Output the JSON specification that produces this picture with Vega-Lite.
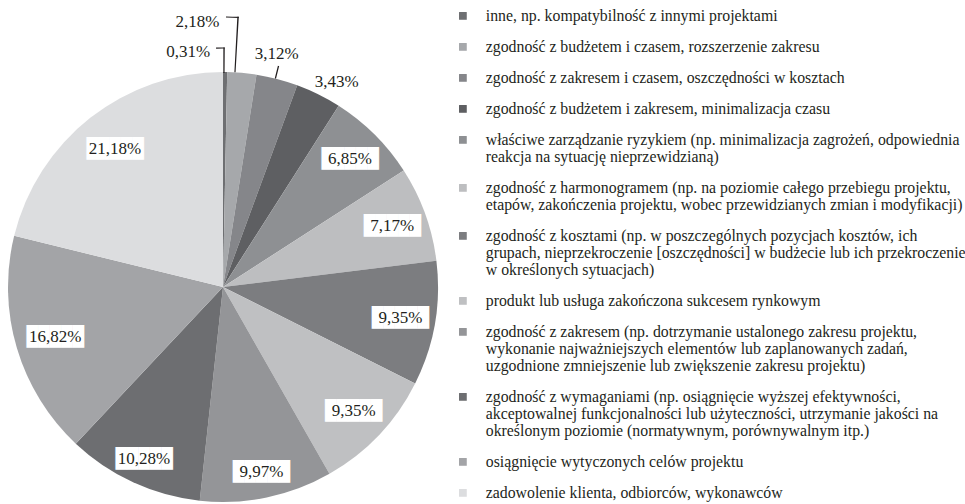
{
  "$schema": "https://vega.github.io/schema/vega-lite/v6.json",
  "width": 446,
  "height": 430,
  "autosize": {"type": "none"},
  "padding": {"left": 0, "top": 72, "right": 519, "bottom": 2},
  "background": "white",
  "config": {
    "view": {"stroke": null},
    "font": "Liberation Serif",
    "style": {"guide-label": {"lineHeight": 17}},
    "locale": {"number": {"decimal": ",", "thousands": " ", "grouping": [3], "currency": ["", " zł"]}}
  },
  "data": {
    "values": [
      {"i": 1, "kategoria": "inne, np. kompatybilność z innymi projektami", "udzial": 0.0031},
      {"i": 2, "kategoria": "zgodność z budżetem i czasem, rozszerzenie zakresu", "udzial": 0.0218},
      {"i": 3, "kategoria": "zgodność z zakresem i czasem, oszczędności w kosztach", "udzial": 0.0312},
      {"i": 4, "kategoria": "zgodność z budżetem i zakresem, minimalizacja czasu", "udzial": 0.0343},
      {"i": 5, "kategoria": "właściwe zarządzanie ryzykiem (np. minimalizacja zagrożeń, odpowiednia|reakcja na sytuację nieprzewidzianą)", "udzial": 0.0685},
      {"i": 6, "kategoria": "zgodność z harmonogramem (np. na poziomie całego przebiegu projektu,|etapów, zakończenia projektu, wobec przewidzianych zmian i modyfikacji)", "udzial": 0.0717},
      {"i": 7, "kategoria": "zgodność z kosztami (np. w poszczególnych pozycjach kosztów, ich|grupach, nieprzekroczenie [oszczędności] w budżecie lub ich przekroczenie|w określonych sytuacjach)", "udzial": 0.0935},
      {"i": 8, "kategoria": "produkt lub usługa zakończona sukcesem rynkowym", "udzial": 0.0935},
      {"i": 9, "kategoria": "zgodność z zakresem (np. dotrzymanie ustalonego zakresu projektu,|wykonanie najważniejszych elementów lub zaplanowanych zadań,|uzgodnione zmniejszenie lub zwiększenie zakresu projektu)", "udzial": 0.0997},
      {"i": 10, "kategoria": "zgodność z wymaganiami (np. osiągnięcie wyższej efektywności,|akceptowalnej funkcjonalności lub użyteczności, utrzymanie jakości na|określonym poziomie (normatywnym, porównywalnym itp.)", "udzial": 0.1028},
      {"i": 11, "kategoria": "osiągnięcie wytyczonych celów projektu", "udzial": 0.1682},
      {"i": 12, "kategoria": "zadowolenie klienta, odbiorców, wykonawców", "udzial": 0.2118}
    ]
  },
  "layer": [
    {
      "encoding": {
        "theta": {"field": "udzial", "type": "quantitative", "stack": true},
        "order": {"field": "i", "type": "quantitative"},
        "detail": {"field": "kategoria"}
      },
      "layer": [
        {
          "mark": {"type": "arc", "radius": 215},
          "encoding": {
            "color": {
              "field": "kategoria",
              "type": "nominal",
              "sort": null,
              "scale": {"range": ["#6e6f72", "#a6a8ab", "#85868a", "#5e5f62", "#8e9093", "#bdbec0", "#7c7d80", "#bfc0c2", "#949598", "#6d6e71", "#a3a4a7", "#dcdddf"]},
              "legend": {
                "title": null,
                "orient": "none",
                "legendX": 455,
                "legendY": -64,
                "padding": 0,
                "symbolType": "square",
                "symbolSize": 60,
                "symbolStrokeWidth": 0,
                "symbolOpacity": 1,
                "labelFont": "Liberation Serif",
                "labelFontSize": 15.8,
                "labelColor": "#231f20",
                "labelLimit": 520,
                "labelOffset": 15,
                "rowPadding": 14,
                "labelExpr": "split(datum.label, '|')"
              }
            }
          }
        },
        {
          "mark": {"type": "text", "radius": 180, "font": "DejaVu Sans Mono", "fontSize": 19, "color": "white"},
          "encoding": {
            "text": {"value": "█████"},
            "opacity": {"condition": {"test": "datum.i >= 5 && datum.i <= 8", "value": 1}, "value": 0}
          }
        },
        {
          "mark": {"type": "text", "radius": 180, "fontSize": 17, "color": "#231f20"},
          "encoding": {
            "text": {"field": "udzial", "type": "quantitative", "format": ".2%"},
            "opacity": {"condition": {"test": "datum.i >= 5 && datum.i <= 8", "value": 1}, "value": 0}
          }
        },
        {
          "mark": {"type": "text", "radius": 189, "font": "DejaVu Sans Mono", "fontSize": 19, "color": "white"},
          "encoding": {
            "text": {"value": "█████"},
            "opacity": {"condition": {"test": "datum.i == 9 || datum.i == 10", "value": 1}, "value": 0}
          }
        },
        {
          "mark": {"type": "text", "radius": 189, "fontSize": 17, "color": "#231f20"},
          "encoding": {
            "text": {"field": "udzial", "type": "quantitative", "format": ".2%"},
            "opacity": {"condition": {"test": "datum.i == 9 || datum.i == 10", "value": 1}, "value": 0}
          }
        },
        {
          "mark": {"type": "text", "radius": 175, "font": "DejaVu Sans Mono", "fontSize": 19, "color": "white"},
          "encoding": {
            "text": {"value": "█████"},
            "opacity": {"condition": {"test": "datum.i >= 11", "value": 1}, "value": 0}
          }
        },
        {
          "mark": {"type": "text", "radius": 175, "fontSize": 17, "color": "#231f20"},
          "encoding": {
            "text": {"field": "udzial", "type": "quantitative", "format": ".2%"},
            "opacity": {"condition": {"test": "datum.i >= 11", "value": 1}, "value": 0}
          }
        },
        {
          "mark": {"type": "text", "radius": 235, "dx": -37, "fontSize": 17, "color": "#231f20"},
          "encoding": {
            "text": {"field": "udzial", "type": "quantitative", "format": ".2%"},
            "opacity": {"condition": {"test": "datum.i == 1", "value": 1}, "value": 0}
          }
        },
        {
          "mark": {"type": "text", "radius": 266, "dx": -49, "fontSize": 17, "color": "#231f20"},
          "encoding": {
            "text": {"field": "udzial", "type": "quantitative", "format": ".2%"},
            "opacity": {"condition": {"test": "datum.i == 2", "value": 1}, "value": 0}
          }
        },
        {
          "mark": {"type": "text", "radius": 241, "dx": -7, "fontSize": 17, "color": "#231f20"},
          "encoding": {
            "text": {"field": "udzial", "type": "quantitative", "format": ".2%"},
            "opacity": {"condition": {"test": "datum.i == 3", "value": 1}, "value": 0}
          }
        },
        {
          "mark": {"type": "text", "radius": 229, "dx": 12, "fontSize": 17, "color": "#231f20"},
          "encoding": {
            "text": {"field": "udzial", "type": "quantitative", "format": ".2%"},
            "opacity": {"condition": {"test": "datum.i == 4", "value": 1}, "value": 0}
          }
        }
      ]
    },
    {
      "data": {"values": [{"odcinek": "0,31% pion"}]},
      "mark": {"type": "arc", "theta": 0.0015, "theta2": 0.0073, "radius": 214, "radius2": 239.6, "color": "#231f20"},
      "encoding": {}
    },
    {
      "data": {"values": [{"odcinek": "0,31% poziom"}]},
      "mark": {"type": "arc", "theta": -0.029, "theta2": 0.0073, "radius": 238.4, "radius2": 239.6, "color": "#231f20"},
      "encoding": {}
    },
    {
      "data": {"values": [{"odcinek": "2,18% pion"}]},
      "mark": {"type": "arc", "theta": 0.053, "theta2": 0.0584, "radius": 215, "radius2": 270.6, "color": "#231f20"},
      "encoding": {}
    },
    {
      "data": {"values": [{"odcinek": "2,18% poziom"}]},
      "mark": {"type": "arc", "theta": 0.0111, "theta2": 0.0584, "radius": 269.4, "radius2": 270.6, "color": "#231f20"},
      "encoding": {}
    },
    {
      "data": {"values": [{"odcinek": "3,12% pion"}]},
      "mark": {"type": "arc", "theta": 0.2432, "theta2": 0.249, "radius": 215, "radius2": 228, "color": "#231f20"},
      "encoding": {}
    }
  ]
}
